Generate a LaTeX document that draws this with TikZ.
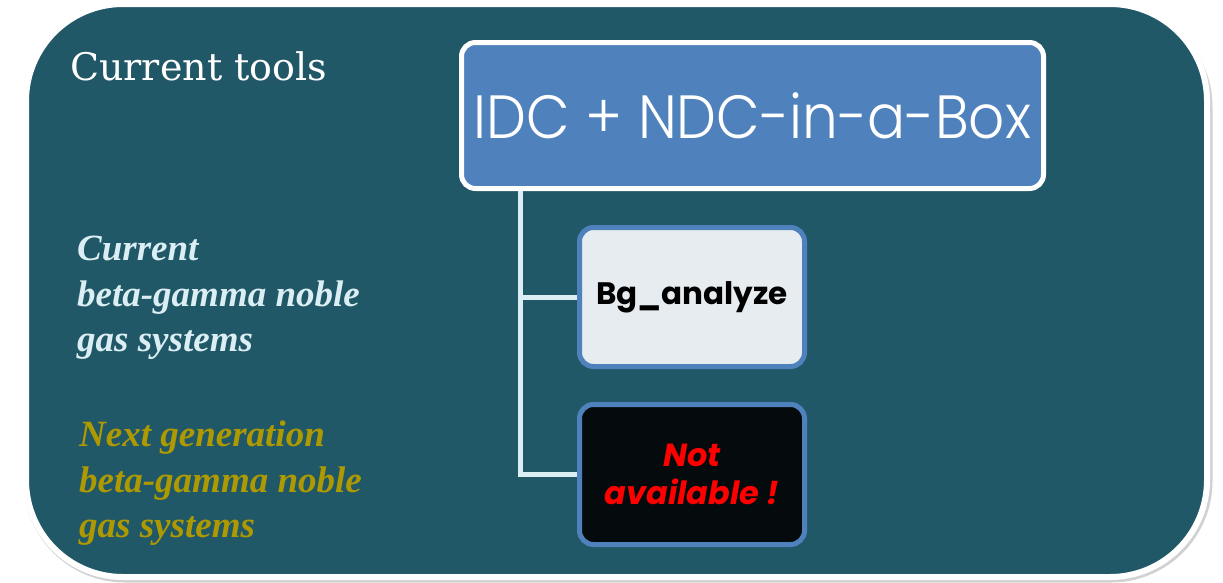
\documentclass[tikz,border=0pt]{standalone}
\usepackage{fontspec}
\setmainfont{Liberation Serif}
\newfontfamily\gothic{Poppins Light}
\newfontfamily\gothicb{Poppins}
\newfontfamily\slab{DejaVu Serif}
\definecolor{teal}{HTML}{215868}
\definecolor{topblue}{HTML}{4F81BD}
\definecolor{conncol}{HTML}{DAEEF3}
\definecolor{bgfill}{HTML}{E6ECEF}
\definecolor{nafill}{HTML}{050A0C}
\definecolor{olive}{HTML}{AE9A00}
\definecolor{paletxt}{HTML}{DAEEF3}
\tikzset{
  tbox/.style={draw, rounded corners=14pt, line width=5pt, inner sep=0pt},
  conn/.style={draw=conncol, line width=5pt},
  sidetxt/.style={anchor=north west, align=left, inner sep=0pt,
    font={\fontsize{37}{45.5}\selectfont\bfseries\itshape}},
}
\begin{document}
\begin{tikzpicture}[x=1pt,y=-1pt]
\useasboundingbox (0,0) rectangle (1223,582);
\fill[white] (0,0) rectangle (1223,582);
% shadow + frame
\draw[black!18, line width=3pt, rounded corners=100pt] (25,7) rectangle (1211,581);
\draw[white, fill=teal, line width=6pt, rounded corners=97pt] (26,4) rectangle (1207,577);
% top box
\node[tbox, draw=white, fill=topblue, minimum width=582pt, minimum height=146pt,
      text=white, font={\gothic\fontsize{56.5}{60}\selectfont}] (top) at (752.5,115.5) {\scalebox{1}[1.08]{IDC + NDC-in-a-Box}};
% child boxes
\node[tbox, draw=topblue, fill=bgfill, minimum width=225pt, minimum height=139pt,
      text=black, font={\gothicb\bfseries\fontsize{31}{34}\selectfont}] (bg) at (692,297) {Bg\_analyze};
\node[tbox, draw=topblue, fill=nafill, minimum width=225pt, minimum height=140pt, align=center,
      text=red, font={\gothicb\bfseries\itshape\fontsize{32}{38}\selectfont}] (na) at (692,474.5) {Not\\available !};
% connectors
\coordinate (stem) at (520,191);
\draw[conn] (stem) |- (bg.west);
\draw[conn] (stem) |- (na.west);
% texts
\node[anchor=base west, inner sep=0pt, text=white, font={\slab\fontsize{38}{40}\selectfont}] (title) at (70,80) {Current tools};
\node[sidetxt, text=paletxt] (cur) at (77,236) {Current\\beta-gamma noble\\gas systems};
\node[sidetxt, text=olive] (next) at (79,421) {Next generation\\beta-gamma noble\\gas systems};
\end{tikzpicture}
\end{document}
